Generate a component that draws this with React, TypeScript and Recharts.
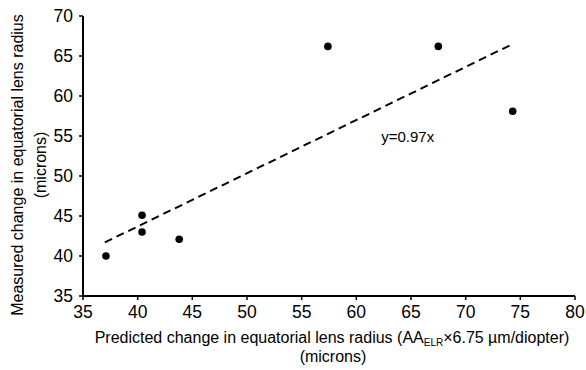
import {
  ScatterChart,
  Scatter,
  XAxis,
  YAxis,
  ReferenceLine,
  ReferenceDot,
} from "recharts";

const predicted = [37.1, 40.4, 40.4, 43.8, 57.4, 67.5, 74.3];
const measured = [40.0, 45.1, 43.0, 42.1, 66.2, 66.2, 58.1];

const trendX = [37.0, 74.3];
const trendY = [41.7, 66.5];

const xTicks = [35, 40, 45, 50, 55, 60, 65, 70, 75, 80];
const yTicks = [35, 40, 45, 50, 55, 60, 65, 70];

const equationLabel = "y=0.97x";
const equationPos = { x: 64.7, y: 54.9 };

const points = predicted.map((x, i) => ({ x, y: measured[i] }));

const font = "'Liberation Sans', Arial, sans-serif";

const Dot = (props: any) => {
  const { cx, cy } = props;
  return <circle cx={cx} cy={cy} r={3.8} fill="#000" />;
};

const YLabel = ({ viewBox }: any) => {
  const cy = viewBox.y + viewBox.height / 2 + 9;
  return (
    <text
      transform={`translate(23, ${cy}) rotate(-90)`}
      textAnchor="middle"
      fontFamily={font}
      fontSize={16}
      fill="#000"
    >
      <tspan x={0} dy={0}>Measured change in equatorial lens radius</tspan>
      <tspan x={0} dy={23}>(microns)</tspan>
    </text>
  );
};

const XLabel = ({ viewBox }: any) => {
  const cx = viewBox.x + viewBox.width / 2 + 3;
  return (
    <text textAnchor="middle" fontFamily={font} fontSize={16} fill="#000">
      <tspan x={cx} y={343}>
        Predicted change in equatorial lens radius (AA
        <tspan fontSize={10} dy={3}>ELR</tspan>
        <tspan dy={-3}>×6.75 µm/diopter)</tspan>
      </tspan>
      <tspan x={cx + 1} y={362}>(microns)</tspan>
    </text>
  );
};

export default function App() {
  return (
    <div style={{ position: "absolute", left: 0, top: 0, background: "#fff" }}>
      <ScatterChart
        width={586}
        height={370}
        margin={{ top: 16, right: 11, left: 0, bottom: 44 }}
      >
        <XAxis
          type="number"
          dataKey="x"
          domain={[35, 80]}
          ticks={xTicks}
          interval={0}
          height={30}
          axisLine={{ stroke: "#000", strokeWidth: 2 }}
          tickLine={{ stroke: "#000", strokeWidth: 1.5 }}
          tickSize={4}
          tickMargin={6}
          tick={{ fill: "#000", fontSize: 17.5, fontFamily: font }}
          label={{ content: XLabel }}
        />
        <YAxis
          type="number"
          dataKey="y"
          domain={[35, 70]}
          ticks={yTicks}
          interval={0}
          width={83}
          axisLine={{ stroke: "#000", strokeWidth: 2 }}
          tickLine={{ stroke: "#000", strokeWidth: 1.5 }}
          tickSize={4}
          tickMargin={6}
          tick={{ fill: "#000", fontSize: 17.5, fontFamily: font }}
          label={{ content: YLabel }}
        />
        <ReferenceLine
          segment={[
            { x: trendX[0], y: trendY[0] },
            { x: trendX[1], y: trendY[1] },
          ]}
          stroke="#000"
          strokeWidth={2}
          strokeDasharray="8 5"
        />
        <ReferenceDot
          x={equationPos.x}
          y={equationPos.y}
          r={0}
          fill="none"
          stroke="none"
          label={{
            value: equationLabel,
            position: "center",
            fill: "#000",
            fontSize: 15,
            fontFamily: font,
          }}
        />
        <Scatter data={points} shape={<Dot />} isAnimationActive={false} />
      </ScatterChart>
    </div>
  );
}
